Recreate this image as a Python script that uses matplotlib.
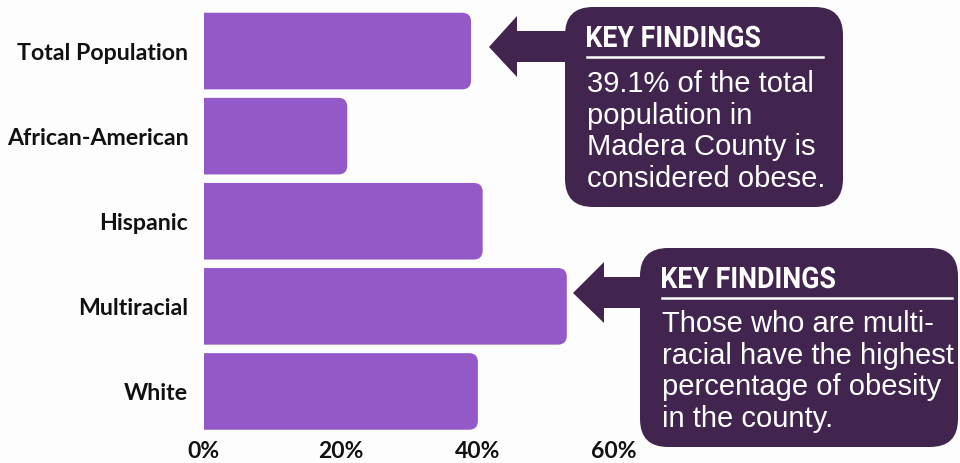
import matplotlib.pyplot as plt
from matplotlib.patches import FancyBboxPatch, Polygon, PathPatch
from matplotlib.textpath import TextPath
from matplotlib.font_manager import FontProperties
from matplotlib.transforms import Affine2D

# obesity share by group, Madera County
groups = ["Total Population", "African-American", "Hispanic", "Multiracial", "White"]
obesity_pct = [39.1, 21.0, 40.8, 53.1, 40.1]
x_ticks = [0, 20, 40, 60]
x_tick_labels = ["0%", "20%", "40%", "60%"]

finding_title = "KEY FINDINGS"
finding_1 = "39.1% of the total\npopulation in\nMadera County is\nconsidered obese."
finding_2 = "Those who are multi-\nracial have the highest\npercentage of obesity\nin the county."

bar_color = "#9359C8"
box_color = "#42254F"

fig = plt.figure(figsize=(9.6, 4.63), dpi=100)
fig.patch.set_facecolor("#FDFDFD")

# main bar axes, placed so the 0-60 range sits under the bars
ax = fig.add_axes([203.6 / 960, 29 / 463, 410.4 / 960, 425.5 / 463])
ax.set_facecolor("none")
ax.set_xlim(0, 60)
ax.set_ylim(len(groups) - 0.5, -0.5)

bars = ax.barh(range(len(groups)), obesity_pct, height=0.9, color="none")
for b in bars:
    # rounded on the right only: extend past 0 and let the axes clip the left side
    rb = FancyBboxPatch((b.get_x() - 3, b.get_y()), b.get_width() + 3, b.get_height(),
                        boxstyle="round,pad=0,rounding_size=1.3", mutation_aspect=0.08,
                        facecolor=bar_color, edgecolor="none", clip_on=True)
    ax.add_patch(rb)

ax.set_yticks(range(len(groups)))
ax.set_yticklabels(groups, fontfamily="Lato", fontweight="bold", fontsize=16.7, color="#111111")
ax.set_xticks(x_ticks)
ax.set_xticklabels(x_tick_labels, fontfamily="Lato", fontweight="bold", fontsize=16.5, color="#111111")
ax.tick_params(length=0)
ax.tick_params(axis="y", pad=11)
ax.tick_params(axis="x", pad=5)
for s in ax.spines.values():
    s.set_visible(False)

# overlay in pixel coordinates for the callouts
ov = fig.add_axes([0, 0, 1, 1])
ov.set_xlim(0, 960)
ov.set_ylim(463, 0)
ov.axis("off")
ov.patch.set_alpha(0)

title_prop = FontProperties(family="Roboto", weight="bold")


def condensed_title(x, y_base, cap_h, width):
    # no condensed font installed, so squeeze a bold one horizontally
    tp = TextPath((0, 0), finding_title, size=cap_h / 0.711, prop=title_prop)
    ext = tp.get_extents()
    sx = width / ext.width
    tr = Affine2D().translate(-ext.x0, 0).scale(sx, -1).translate(x, y_base)
    ov.add_patch(PathPatch(tr.transform_path(tp), facecolor="white", edgecolor="none"))


def callout(x0, y0, x1, y1, tip_x, tip_y, head_x, title_base, line_y, text_y, line_end, text):
    ov.add_patch(FancyBboxPatch((x0, y0), x1 - x0, y1 - y0,
                                boxstyle="round,pad=0,rounding_size=28",
                                facecolor=box_color, edgecolor="none"))
    arrow = Polygon([(tip_x, tip_y), (head_x, tip_y - 31), (head_x, tip_y - 16),
                     (x0 + 2, tip_y - 16), (x0 + 2, tip_y + 15), (head_x, tip_y + 15),
                     (head_x, tip_y + 30)], closed=True, facecolor=box_color, edgecolor="none")
    ov.add_patch(arrow)
    tx = x0 + 22
    condensed_title(tx, title_base, 21, 173)
    ov.plot([tx, line_end], [line_y, line_y], color="white", lw=1.8)
    ov.text(tx, text_y, text, fontfamily="Liberation Sans", fontsize=21, color="white",
            va="top", ha="left", linespacing=1.17)


callout(565, 7, 843, 207, 489, 47, 517, 47, 57, 70, 823, finding_1)
callout(640, 248, 958, 447, 573, 293, 604, 288, 298, 310, 952, finding_2)

fig.savefig("out.png", dpi=100, facecolor=fig.get_facecolor())
